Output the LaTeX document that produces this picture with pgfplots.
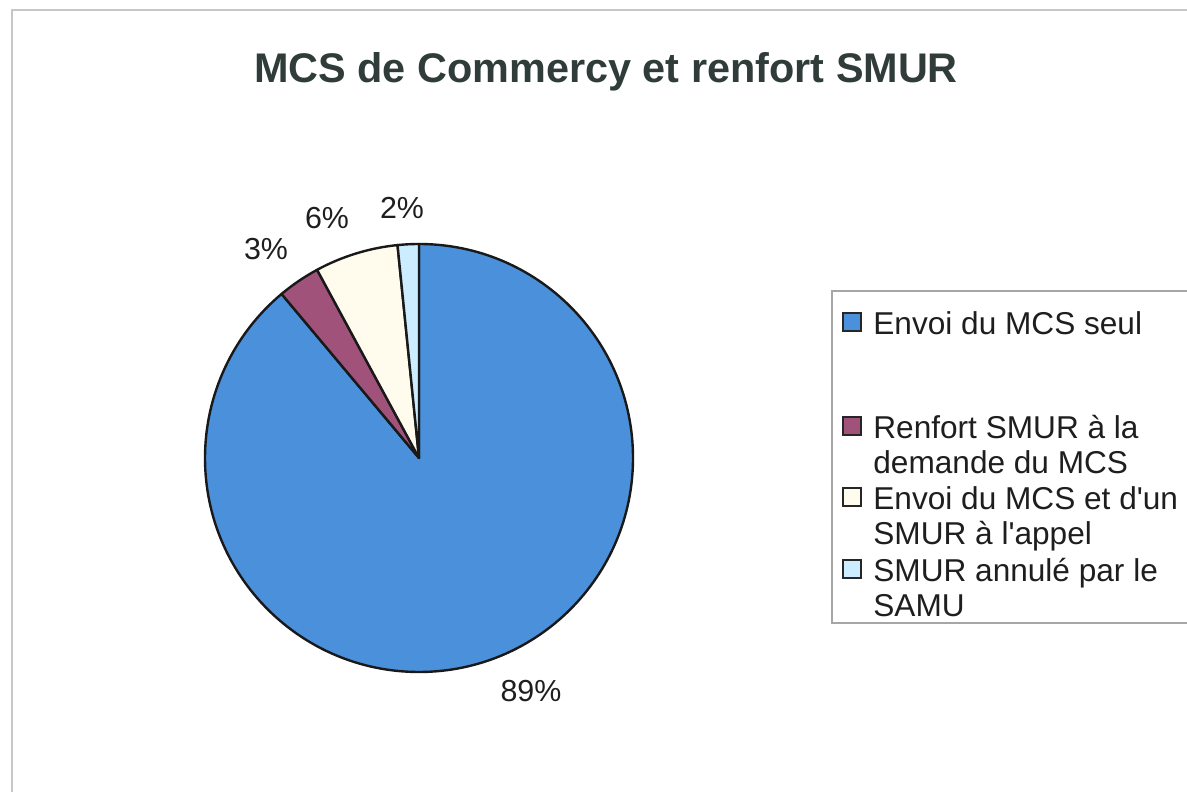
\documentclass[border=0pt]{standalone}
\usepackage{pgfplots}
\usepackage{pgfplotstable}
\pgfplotsset{compat=1.18}
\usepackage{fontspec}
\setmainfont{Liberation Sans}[Ligatures=TeXOff]

\definecolor{sliceA}{RGB}{74,144,218}
\definecolor{sliceB}{RGB}{160,82,122}
\definecolor{sliceC}{RGB}{255,252,238}
\definecolor{sliceD}{RGB}{204,236,255}
\definecolor{titlecol}{RGB}{47,60,58}
\definecolor{txt}{RGB}{30,30,30}

% share of each case, clockwise from 12 o'clock
\pgfplotstableread{
value colour
88.9 sliceA
3.2  sliceB
6.3  sliceC
1.6  sliceD
}\piedata

\begin{document}
\begin{tikzpicture}
\begin{axis}[
hide axis,
scale only axis,
width = 593.5pt, height = 396pt,
xmin = 0, xmax = 1187,
ymin = 0, ymax = 792,
clip = false,
]
% chart frame (top and left edges are visible)
\draw[black!22, line width=1pt] (axis cs:12,0) -- (axis cs:12,782) -- (axis cs:1187,782);

% pie slices
\pgfplotsextra{
  \pgfplotstablegetrowsof{\piedata}
  \pgfmathtruncatemacro\lastrow{\pgfplotsretval-1}
  \xdef\startang{90}
  \foreach \i in {0,...,\lastrow}{
    \pgfplotstablegetelem{\i}{value}\of\piedata
    \pgfmathsetmacro\endang{\startang-3.6*\pgfplotsretval}
    \pgfplotstablegetelem{\i}{colour}\of\piedata
    \edef\col{\pgfplotsretval}
    \filldraw[fill=\col, draw=black!90, line width=1.2pt, line join=round]
      (axis cs:419,334) -- ++(\startang:107pt)
      arc[start angle=\startang, end angle=\endang, radius=107pt] -- cycle;
    \xdef\startang{\endang}
  }
}

% title
\node[anchor=base, text=titlecol, font=\fontsize{20.7}{24}\selectfont\bfseries]
  at (axis cs:606,709) {MCS de Commercy et renfort SMUR};

% percentage labels
\begin{scope}[every node/.style={anchor=base, text=txt, font=\fontsize{15.2}{18}\selectfont}]
\node at (axis cs:531,90) {89\%};
\node at (axis cs:266,532) {3\%};
\node at (axis cs:327,563) {6\%};
\node at (axis cs:402,573) {2\%};
\end{scope}

% legend
\draw[black!35, line width=0.6pt] (axis cs:1190,501) -- (axis cs:832,501) -- (axis cs:832,169) -- (axis cs:1190,169);
\begin{scope}[every node/.style={anchor=base west, text=txt, inner sep=0pt,
  font=\fontsize{15.8}{17.5}\selectfont}]
\node at (axis cs:873,457.5) {Envoi du MCS seul};
\node at (axis cs:873,353.5) {Renfort SMUR à la};
\node at (axis cs:873,318.5) {demande du MCS};
\node at (axis cs:873,282.5) {Envoi du MCS et d'un};
\node at (axis cs:873,247.5) {SMUR à l'appel};
\node at (axis cs:873,210.5) {SMUR annulé par le};
\node at (axis cs:873,175.5) {SAMU};
\end{scope}
\begin{scope}[line width=0.8pt, draw=black!85]
\filldraw[fill=sliceA] (axis cs:843,461) rectangle (axis cs:861,479);
\filldraw[fill=sliceB] (axis cs:843,357) rectangle (axis cs:861,375);
\filldraw[fill=sliceC] (axis cs:843,286) rectangle (axis cs:861,304);
\filldraw[fill=sliceD] (axis cs:843,214) rectangle (axis cs:861,232);
\end{scope}
\end{axis}
\pgfresetboundingbox
\path[use as bounding box] (current axis.south west) rectangle (current axis.north east);
\end{tikzpicture}
\end{document}
